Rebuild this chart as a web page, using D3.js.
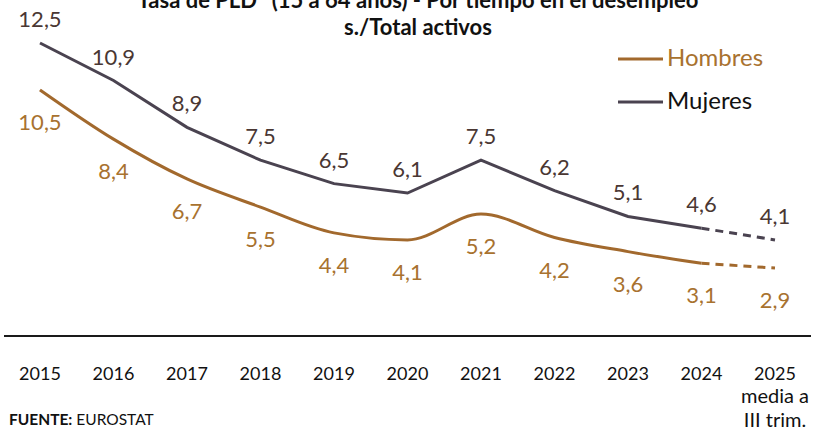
<!DOCTYPE html>
<html>
<head>
<meta charset="utf-8">
<script src="https://cdn.jsdelivr.net/npm/d3@7/dist/d3.min.js"></script>
<style>
  html, body { margin: 0; padding: 0; background: #fff; }
  svg { display: block; font-family: Lato, "Open Sans", sans-serif; }
</style>
</head>
<body>
<svg id="chart" width="817" height="433"></svg>
<script>
const years = ["2015","2016","2017","2018","2019","2020","2021","2022","2023","2024","2025"];
const yearSub = [null,null,null,null,null,null,null,null,null,null,["media a","III trim."]];
const hombres = [10.5, 8.4, 6.7, 5.5, 4.4, 4.1, 5.2, 4.2, 3.6, 3.1, 2.9];
const mujeres = [12.5, 10.9, 8.9, 7.5, 6.5, 6.1, 7.5, 6.2, 5.1, 4.6, 4.1];
const seriesNames = ["Hombres", "Mujeres"];
const titleLines = ["Tasa de PLD* (15 a 64 años) - Por tiempo en el desempleo", "s./Total activos"];
const source = ["FUENTE:", " EUROSTAT"];

const cH = "#a2692d", cHtext = "#a8722f";
const cM = "#4a4350", cMtext = "#4a3733";

const svg = d3.select("#chart");
const x = d3.scalePoint().domain(years).range([40, 775]);
const y = d3.scaleLinear().domain([0, 12.5]).range([336, 43]);
const fmt = v => String(v).replace(".", ",");

// title
const t = svg.append("text").attr("text-anchor", "middle").attr("font-weight", "bold")
  .attr("font-size", 22).attr("fill", "#111");
t.append("tspan").attr("x", 418).attr("y", 8).text(titleLines[0]);
t.append("tspan").attr("x", 418).attr("y", 35).text(titleLines[1]);

// baseline axis line
svg.append("line").attr("x1", 4).attr("x2", 811).attr("y1", y(0)).attr("y2", y(0))
  .attr("stroke", "#1a1a1a").attr("stroke-width", 2);

// x axis labels
const xa = svg.append("g").attr("fill", "#111").attr("text-anchor", "middle");
years.forEach((yr, i) => {
  xa.append("text").attr("x", x(yr)).attr("y", 380).attr("font-size", 18).text(yr);
  if (yearSub[i]) {
    yearSub[i].forEach((s, j) => {
      xa.append("text").attr("x", x(yr)).attr("y", 403 + j * 24).attr("font-size", 20).text(s);
    });
  }
});

// lines
function drawSeries(vals, color, curve) {
  const solid = vals.slice(0, 10).map((v, i) => [x(years[i]), y(v)]);
  const dashed = vals.slice(9, 11).map((v, i) => [x(years[i + 9]), y(v)]);
  svg.append("path").attr("d", d3.line().curve(curve)(solid))
    .attr("fill", "none").attr("stroke", color).attr("stroke-width", 3);
  svg.append("path").attr("d", d3.line()(dashed))
    .attr("fill", "none").attr("stroke", color).attr("stroke-width", 3)
    .attr("stroke-dasharray", "8,6");
}
drawSeries(hombres, cH, d3.curveMonotoneX);
drawSeries(mujeres, cM, d3.curveLinear);

// value labels
svg.append("g").attr("font-size", 22).attr("fill", cMtext).attr("text-anchor", "middle")
  .selectAll("text").data(mujeres).join("text")
  .attr("x", (d, i) => x(years[i])).attr("y", d => y(d) - 16).text(fmt);
svg.append("g").attr("font-size", 22).attr("fill", cHtext).attr("text-anchor", "middle")
  .selectAll("text").data(hombres).join("text")
  .attr("x", (d, i) => x(years[i])).attr("y", d => y(d) + 40).text(fmt);

// legend
const leg = [[seriesNames[0], cH, cHtext, 59], [seriesNames[1], cM, "#111", 102]];
leg.forEach(([name, c, tc, ly]) => {
  svg.append("line").attr("x1", 618).attr("x2", 663).attr("y1", ly).attr("y2", ly)
    .attr("stroke", c).attr("stroke-width", 3);
  svg.append("text").attr("x", 667).attr("y", ly + 7).attr("font-size", 24)
    .attr("fill", tc).text(name);
});

// source
const src = svg.append("text").attr("x", 9).attr("y", 425).attr("font-size", 15.5).attr("fill", "#111");
src.append("tspan").attr("font-weight", "bold").text(source[0]);
src.append("tspan").text(source[1]);
</script>
</body>
</html>
